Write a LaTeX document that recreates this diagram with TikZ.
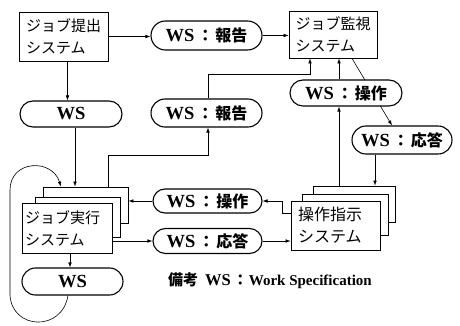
\documentclass[tikz,border=0pt]{standalone}
\usepackage{fontspec}
\setmainfont{Liberation Serif}
\newfontfamily\cjk{Noto Sans CJK JP}
\usetikzlibrary{arrows.meta,shapes.misc,backgrounds}
\tikzset{
  sysbox/.style={draw, line width=0.8pt, fill=white, inner sep=0pt, align=left,
    font=\cjk\fontsize{15}{22}\selectfont},
  pill/.style={draw, rounded rectangle, line width=1.1pt, fill=white, inner sep=0pt,
    font=\fontsize{16}{18}\selectfont\bfseries},
  conn/.style={line width=0.6pt},
  arr/.style={conn, -{Latex[length=5pt,width=3.6pt]}},
}
\newcommand{\bigws}{{\fontsize{18.5}{18}\selectfont WS}}
\newcommand{\wslabel}[1]{\bigws\hspace{3pt}{\cjk\bfseries ：}\hspace{2pt}{\cjk\bfseries #1}}
\begin{document}
\begin{tikzpicture}[x=1pt,y=-1pt]
\useasboundingbox (0,0) rectangle (460,326);
% top row
\node[sysbox, minimum width=89pt, minimum height=49pt] (sub) at (63.5,36.5) {ジョブ提出\\システム};
\node[sysbox, minimum width=88pt, minimum height=47pt] (mon) at (333,34.5) {ジョブ監視\\システム};
\node[pill, minimum width=111pt, minimum height=29pt] (rep1) at (206.5,35.5) {\wslabel{報告}};
% second row
\node[pill, minimum width=102pt, minimum height=26pt] (ws1) at (71,114) {\bigws};
\node[pill, minimum width=111pt, minimum height=28pt] (rep2) at (206.5,113) {\wslabel{報告}};
\node[pill, minimum width=112pt, minimum height=26pt] (op1) at (346,93) {\wslabel{操作}};
\node[pill, minimum width=100pt, minimum height=28pt] (ans1) at (402,140) {\wslabel{応答}};
% job execution stack
\node[sysbox, minimum width=85pt, minimum height=36pt] (eback) at (85.5,205) {};
\node[sysbox, minimum width=85pt, minimum height=40pt] (emid) at (77.5,217) {};
\node[sysbox, minimum width=90pt, minimum height=50pt, text width=84pt] (efront) at (67,228) {ジョブ実行\\システム};
% operation instruction stack
\node[sysbox, minimum width=82pt, minimum height=36pt] (oback) at (354,204) {};
\node[sysbox, minimum width=86pt, minimum height=41pt] (omid) at (345,214.5) {};
\node[sysbox, minimum width=89pt, minimum height=49pt, text width=75pt,
  font=\cjk\fontsize{16}{22}\selectfont] (ofront) at (335.5,225.5) {操作指示\\システム};
% middle pills
\node[pill, minimum width=109pt, minimum height=24pt] (op2) at (207.5,201) {\wslabel{操作}};
\node[pill, minimum width=109pt, minimum height=25pt] (ans2) at (207.5,241) {\wslabel{応答}};
\node[pill, minimum width=101pt, minimum height=27pt] (ws2) at (72.5,281.5) {\bigws};
% legend
\node[font=\fontsize{15}{16}\selectfont\bfseries] (legend) at (270,281)
  {{\cjk\bfseries 備考}\hspace{7pt}{\fontsize{16.5}{16}\selectfont WS}\hspace{2pt}{\cjk\bfseries ：}\hspace{1pt}Work Specification};
% helper coordinates
\coordinate (k1) at (0,155);
\coordinate (k2) at (0,74);
\coordinate (k3) at (282,0);
\begin{pgfonlayer}{background}
\draw[arr] (sub.east) -- (sub.east -| rep1.west);
\draw[arr] (rep1.east) -- (rep1.east -| mon.west);
\draw[arr] ([xshift=4pt]sub.south) -- ([xshift=4pt]sub.south |- ws1.north);
\draw[arr] ([xshift=4pt]ws1.south) -- ([xshift=4pt]ws1.south |- eback.north);
\draw[arr] ([xshift=22.5pt]eback.north) -- ([xshift=22.5pt]eback.north |- k1)
  -- ([xshift=1.5pt]rep2.south |- k1) -- ([xshift=1.5pt]rep2.south);
\draw[arr] ([xshift=1.5pt]rep2.north) -- ([xshift=1.5pt]rep2.north |- k2)
  -- ([xshift=-23pt]mon.south |- k2) -- ([xshift=-23pt]mon.south);
\draw[arr] ([xshift=-7pt]op1.north) -- ([xshift=-7pt]op1.north |- mon.south);
\draw[arr] ([xshift=-15pt]oback.north) -- ([xshift=-15pt]oback.north |- op1.south);
\draw[arr] ([xshift=19pt]mon.south) -- ([xshift=-10pt]ans1.north);
\draw[arr] ([xshift=-27pt]ans1.south) -- ([xshift=-27pt]ans1.south |- oback.north);
\draw[arr] ([yshift=12.5pt]ofront.west) -- ([yshift=12.5pt]ofront.west -| k3)
  -- (k3 |- op2.east) -- (op2.east);
\draw[arr] ([yshift=-13pt]efront.east) -- ([yshift=-13pt]efront.east -| ans2.west);
\draw[arr] (ans2.east) -- (ans2.east -| ofront.west);
\draw[arr] (op2.west) -- (op2.west -| eback.east);
\draw[arr] ([xshift=3pt]efront.south) -- ([xshift=3pt]efront.south |- ws2.north);
\draw[arr] ([xshift=-4.5pt]ws2.south) .. controls (62,332) and (12,330) .. (10,295)
  -- (10,190) .. controls (10,160) and (52,158) .. ([xshift=-24.5pt]eback.north);
\end{pgfonlayer}
\end{tikzpicture}
\end{document}
